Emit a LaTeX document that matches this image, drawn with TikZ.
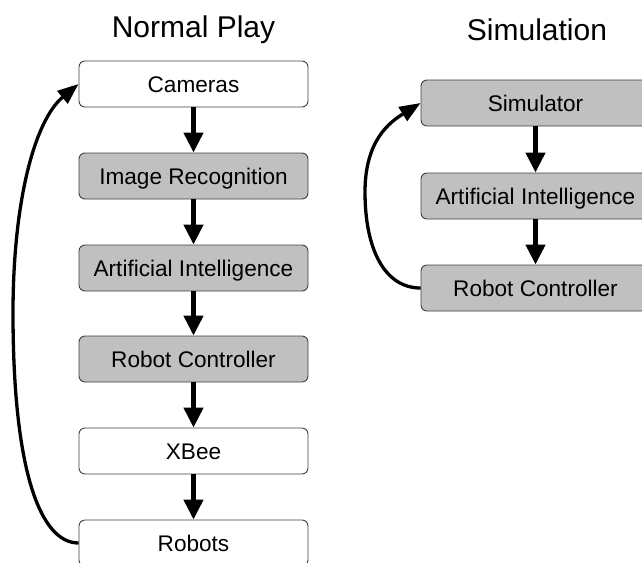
\documentclass[tikz,border=0pt]{standalone}
\usepackage{fontspec}
\setmainfont{Liberation Sans}
\usetikzlibrary{arrows.meta}
\definecolor{boxgray}{HTML}{C0C0C0}
\definecolor{boxline}{HTML}{404040}
\tikzset{
  blk/.style={draw=boxline, line width=0.9pt, rounded corners=6pt,
    minimum width=229pt, minimum height=46pt, inner sep=0pt,
    text height=16pt, text depth=0pt,
    font=\fontsize{22.6}{26}\selectfont},
  whitebox/.style={blk, fill=white},
  graybox/.style={blk, fill=boxgray},
  title/.style={anchor=base, inner sep=0pt, font=\fontsize{30}{36}\selectfont},
  flow/.style={line width=4.5pt, -{Triangle[length=20pt,width=19pt]}},
  loop/.style={line width=3.3pt, -{Triangle[length=21pt,width=16pt]}}
}
\begin{document}
\begin{tikzpicture}[x=1pt,y=-1pt]
\useasboundingbox (0,0) rectangle (642,562);
\clip (0,0) rectangle (642,562);
\node[title] (t1) at (193.5,37) {Normal Play};
\node[title] (t2) at (537,40) {Simulation};

\node[whitebox] (cam) at (193.5,84) {Cameras};
\node[graybox] (img) at (193.5,176) {Image Recognition};
\node[graybox] (ai) at (193.5,268) {Artificial Intelligence};
\node[graybox] (rc) at (193.5,359) {Robot Controller};
\node[whitebox] (xb) at (193.5,451) {XBee};
\node[whitebox] (rob) at (193.5,543) {Robots};

\node[graybox] (sim) at (535.5,103) {Simulator};
\node[graybox] (sai) at (535.5,196) {Artificial Intelligence};
\node[graybox] (src) at (535.5,288) {Robot Controller};

\draw[flow] (cam) -- (img);
\draw[flow] (img) -- (ai);
\draw[flow] (ai) -- (rc);
\draw[flow] (rc) -- (xb);
\draw[flow] (xb) -- (rob);
\draw[flow] (sim) -- (sai);
\draw[flow] (sai) -- (src);

\coordinate (lmid) at (13,313);
\coordinate (rmid) at (365,192);
\draw[loop] (rob.west) .. controls (40,543) and (13,470) .. (lmid)
  .. controls (13,200) and (35,120) .. (cam.west);
\draw[loop] (src.west) .. controls (385,288) and (365,250) .. (rmid)
  .. controls (365,140) and (390,122) .. (sim.west);
\end{tikzpicture}
\end{document}
